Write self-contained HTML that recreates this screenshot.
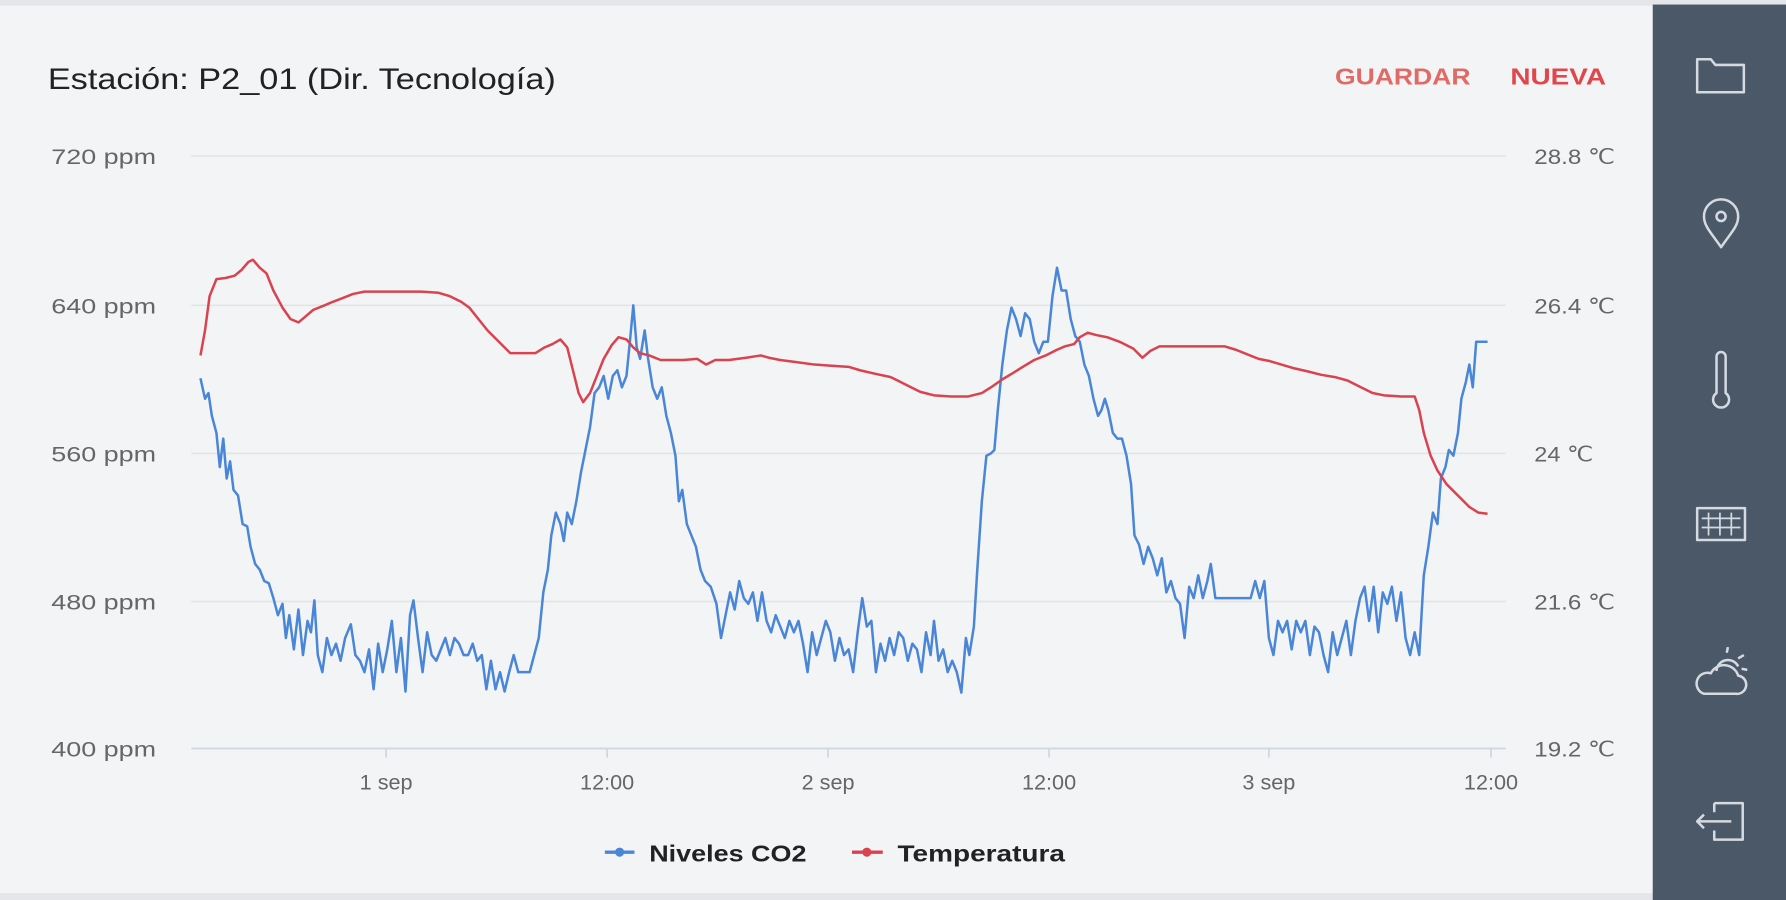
<!DOCTYPE html>
<html><head><meta charset="utf-8"><style>
html,body{margin:0;padding:0;width:1786px;height:900px;overflow:hidden;background:#f3f4f6}
svg{display:block}
text{font-family:"Liberation Sans",sans-serif}
</style></head><body>
<svg width="1786" height="900" viewBox="0 0 1568 790" preserveAspectRatio="none">
<rect x="0" y="0" width="1568" height="790" fill="#f3f4f6"/>
<rect x="0" y="0" width="1568" height="5" fill="#e4e6e9"/>
<rect x="0" y="784" width="1568" height="6" fill="#e4e6e9"/>
<rect x="1451" y="4" width="117" height="786" fill="#4a5868"/>
<text x="42" y="78" font-size="26" fill="#222" textLength="446" lengthAdjust="spacingAndGlyphs">Estación: P2_01 (Dir. Tecnología)</text>
<text x="1172" y="74" font-size="20" fill="#e06a66" font-weight="bold" textLength="119" lengthAdjust="spacingAndGlyphs">GUARDAR</text>
<text x="1326" y="74" font-size="20" fill="#e0474c" font-weight="bold" textLength="84" lengthAdjust="spacingAndGlyphs">NUEVA</text>
<g stroke="#e2e4e7" stroke-width="1.5">
<line x1="168" y1="137" x2="1322" y2="137"/><line x1="168" y1="268" x2="1322" y2="268"/>
<line x1="168" y1="398" x2="1322" y2="398"/><line x1="168" y1="528" x2="1322" y2="528"/>
</g>
<line x1="168" y1="657" x2="1322" y2="657" stroke="#cfd6e2" stroke-width="1.5"/>
<g stroke="#cfd6e2" stroke-width="1.5">
<line x1="339" y1="657" x2="339" y2="665"/><line x1="533" y1="657" x2="533" y2="665"/><line x1="727" y1="657" x2="727" y2="665"/><line x1="921" y1="657" x2="921" y2="665"/><line x1="1114" y1="657" x2="1114" y2="665"/><line x1="1309" y1="657" x2="1309" y2="665"/>
</g>
<g font-size="19" fill="#666">
<text x="45" y="144" textLength="92" lengthAdjust="spacingAndGlyphs">720 ppm</text><text x="45" y="275" textLength="92" lengthAdjust="spacingAndGlyphs">640 ppm</text><text x="45" y="405" textLength="92" lengthAdjust="spacingAndGlyphs">560 ppm</text><text x="45" y="535" textLength="92" lengthAdjust="spacingAndGlyphs">480 ppm</text><text x="45" y="664" textLength="92" lengthAdjust="spacingAndGlyphs">400 ppm</text>
</g>
<g font-size="19" fill="#666">
<text x="1347" y="144" textLength="71" lengthAdjust="spacingAndGlyphs">28.8 ℃</text><text x="1347" y="275" textLength="71" lengthAdjust="spacingAndGlyphs">26.4 ℃</text><text x="1347" y="405" textLength="52" lengthAdjust="spacingAndGlyphs">24 ℃</text><text x="1347" y="535" textLength="71" lengthAdjust="spacingAndGlyphs">21.6 ℃</text><text x="1347" y="664" textLength="71" lengthAdjust="spacingAndGlyphs">19.2 ℃</text>
</g>
<g font-size="19" fill="#666" text-anchor="middle">
<text x="339" y="693">1 sep</text><text x="533" y="693">12:00</text><text x="727" y="693">2 sep</text><text x="921" y="693">12:00</text><text x="1114" y="693">3 sep</text><text x="1309" y="693">12:00</text>
</g>
<polyline fill="none" stroke="#4a86d8" stroke-width="2.2" stroke-linejoin="round" points="176,332 180,350 183,345 186,365 190,380 193,410 196,385 199,420 202,405 205,430 209,435 213,460 217,462 220,480 224,495 228,500 232,510 236,512 240,525 244,540 248,530 251,560 254,540 258,570 262,535 266,575 270,545 273,555 276,527 279,575 283,590 287,560 291,575 295,565 299,580 303,560 308,548 312,575 316,580 320,590 324,570 328,605 332,565 336,590 340,570 344,545 348,590 352,560 356,607 360,540 363,527 367,560 371,590 375,555 379,575 383,580 387,570 391,560 395,575 399,560 403,565 407,575 411,575 415,565 419,580 423,575 427,605 431,580 435,605 439,590 443,607 447,590 451,575 455,590 459,590 465,590 469,575 473,560 477,520 481,500 484,470 488,450 492,460 495,475 498,450 502,460 506,440 510,415 514,395 518,375 522,345 526,340 530,330 534,350 538,330 542,325 546,340 550,330 553,300 556,268 559,305 562,315 566,290 569,315 573,340 577,350 581,340 585,365 589,380 593,400 596,440 599,430 603,460 607,470 611,480 615,500 619,510 624,515 629,530 633,560 637,540 641,520 645,535 649,510 653,525 657,530 661,520 665,545 669,520 673,545 677,555 681,540 685,550 689,560 693,545 697,555 701,545 705,565 709,590 713,555 717,575 721,560 725,545 729,555 733,580 737,560 741,575 745,570 749,590 753,555 757,525 761,550 765,545 769,590 773,565 777,580 781,560 785,575 789,555 793,560 797,580 801,565 805,570 809,590 813,555 817,575 820,545 824,580 828,570 832,590 836,580 840,590 844,608 848,560 851,575 855,550 858,500 862,440 866,400 870,398 873,395 876,360 880,320 884,290 888,270 892,280 896,295 900,275 904,280 908,300 912,310 916,300 920,300 924,260 928,235 932,255 936,255 940,280 944,295 948,300 952,320 956,330 960,350 964,365 967,360 970,350 973,360 977,380 981,385 985,385 989,400 993,425 996,470 1000,478 1004,495 1008,480 1012,490 1016,505 1020,490 1024,520 1028,510 1032,525 1036,530 1040,560 1044,515 1048,525 1052,505 1056,525 1060,510 1063,495 1067,525 1072,525 1078,525 1085,525 1093,525 1098,525 1102,510 1106,525 1110,510 1114,560 1118,575 1122,545 1126,555 1130,545 1134,570 1138,545 1142,555 1146,545 1150,575 1154,550 1158,555 1162,575 1166,590 1170,555 1174,575 1178,560 1182,545 1186,575 1190,545 1194,525 1198,515 1202,545 1206,515 1210,555 1214,520 1218,530 1222,515 1226,545 1230,520 1234,560 1238,575 1242,555 1246,575 1250,505 1254,480 1258,450 1262,460 1265,420 1269,410 1272,395 1276,400 1280,380 1283,350 1287,335 1290,320 1293,340 1296,300 1300,300 1306,300"/>
<polyline fill="none" stroke="#d9434f" stroke-width="2.2" stroke-linejoin="round" points="176,312 180,290 184,260 190,245 198,244 206,242 212,237 218,230 222,228 228,235 234,240 240,255 248,270 255,280 262,283 268,278 275,272 285,268 292,265 300,262 310,258 320,256 335,256 350,256 370,256 385,257 395,260 405,265 412,270 420,280 428,290 438,300 448,310 458,310 470,310 478,305 485,302 492,298 498,305 503,325 508,345 512,353 518,345 524,330 530,315 537,303 543,296 550,298 556,305 562,310 570,312 580,316 590,316 600,316 612,315 620,320 628,316 640,316 655,314 668,312 675,314 685,316 700,318 715,320 730,321 745,322 755,325 768,328 782,331 790,335 800,340 808,344 820,347 835,348 850,348 862,345 870,340 880,333 890,327 898,322 908,316 918,312 928,307 935,304 943,302 948,296 955,292 962,294 972,296 983,300 995,306 1003,314 1010,308 1018,304 1030,304 1045,304 1060,304 1075,304 1085,307 1095,311 1105,315 1115,317 1125,320 1135,323 1148,326 1160,329 1172,331 1183,334 1195,340 1205,345 1215,347 1230,348 1242,348 1246,360 1250,380 1256,400 1262,413 1270,425 1280,435 1290,445 1298,450 1306,451"/>
<line x1="531" y1="748" x2="557" y2="748" stroke="#4a86d8" stroke-width="3"/><circle cx="544" cy="748" r="4" fill="#4a86d8"/>
<text x="570" y="756" font-size="20" font-weight="bold" fill="#222" textLength="138" lengthAdjust="spacingAndGlyphs">Niveles CO2</text>
<line x1="748" y1="748" x2="775" y2="748" stroke="#d9434f" stroke-width="3"/><circle cx="761" cy="748" r="4" fill="#d9434f"/>
<text x="788" y="756" font-size="20" font-weight="bold" fill="#222" textLength="147" lengthAdjust="spacingAndGlyphs">Temperatura</text>
<g fill="none" stroke="#d5dae0" stroke-width="2.2" stroke-linejoin="round">
<path d="M1490,52 h12 l4,5 h25 v24 h-41 z"/>
<path d="M1511,217 c-8,-12 -15,-18 -15,-27 a15,15 0 0 1 30,0 c0,9 -7,15 -15,27 z"/><circle cx="1511" cy="190" r="4"/>
<path d="M1507,345 v-32 a4,4 0 0 1 8,0 v32 a7,7 0 1 1 -8,0 z"/>
<rect x="1490" y="446" width="42" height="28"/><path d="M1494,455 h34 M1494,463 h34 M1500,450 v20 M1510,450 v20 M1520,450 v20" stroke-width="1.5"/>
<path d="M1496,609 h28 a8,8 0 0 0 2,-16 a13,13 0 0 0 -24,-2 a9,9 0 0 0 -6,18 z"/><path d="M1507,589 a10,10 0 0 1 19,-4 M1516,573 l1,-5 M1526,578 l5,-3 M1529,587 l5,1"/>
<path d="M1505,705 h25 v32 h-25 v-8 M1505,713 v-8"/><path d="M1520,721 h-30 l6,-6 M1490,721 l6,6"/>
</g>
</svg>
</body></html>
